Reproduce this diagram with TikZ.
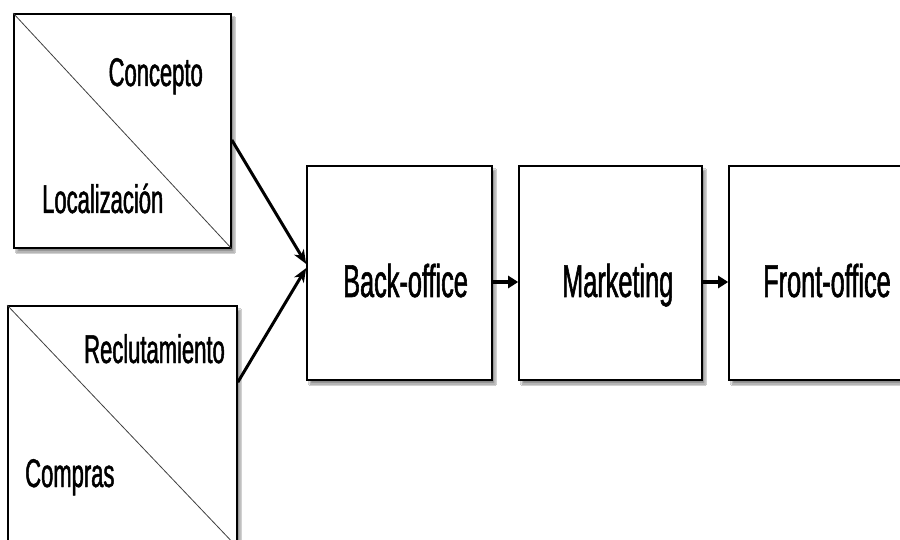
\documentclass[tikz,border=0pt]{standalone}
\usepackage{fontspec}
\newfontfamily\narrowfont[FakeStretch=0.55,FakeBold=1.2]{Liberation Sans}
\usetikzlibrary{arrows.meta,shadows.blur}
\begin{document}
\begin{tikzpicture}[x=1pt,y=-1pt,
  box/.style={draw=black, line width=1.6pt, fill=white, rectangle, inner sep=0pt,
    blur shadow={shadow xshift=3pt, shadow yshift=-4pt, shadow blur steps=6, shadow blur extra rounding=0pt, shadow opacity=45}},
  diag/.style={draw=black!75, line width=0.8pt},
  lab/.style={font=\narrowfont\fontsize{40}{44}\selectfont, inner sep=0pt},
  mainlab/.style={font=\narrowfont\fontsize{46}{50}\selectfont, inner sep=0pt},
  conn/.style={line width=3pt, -{Stealth[length=14pt,width=11pt,inset=4pt]}},
  flow/.style={line width=3.5pt, -{Triangle[length=10pt,width=12pt]}}
]
\clip (0,0) rectangle (900,540);
\fill[white] (0,0) rectangle (900,540);

\node[box, minimum width=217pt, minimum height=234pt] (c1) at (122.5,131) {};
\node[box, minimum width=229pt, minimum height=241pt] (c2) at (122.5,426.5) {};
\node[box, minimum width=185pt, minimum height=214pt] (back) at (399.5,273) {};
\node[box, minimum width=183pt, minimum height=214pt] (mkt) at (610.5,273) {};
\node[box, minimum width=185pt, minimum height=214pt] (front) at (821.5,273) {};

\draw[diag] (c1.north west) -- (c1.south east);
\draw[diag] (c2.north west) -- (c2.south east);

\node[lab, anchor=base east] (concepto) at (203,86) {Concepto};
\node[lab, anchor=base west] (localiz) at (42,213) {Localización};
\node[lab, anchor=base east] (reclut) at (225,363) {Reclutamiento};
\node[lab, anchor=base west] (compras) at (25,487) {Compras};

\node[mainlab, anchor=base west] (tback) at (343,297) {Back-office};
\node[mainlab, anchor=base west] (tmkt) at (562,297) {Marketing};
\node[mainlab, anchor=base west] (tfront) at (763,297) {Front-office};

\draw[conn] ([yshift=-9pt]c1.east) -- ([yshift=9pt]back.west);
\draw[conn] ([yshift=-77pt]c2.north east) -- ([yshift=5pt]back.west);
\draw[flow] ([yshift=-9pt]back.east) -- ([yshift=-9pt]mkt.west);
\draw[flow] ([yshift=-9pt]mkt.east) -- ([yshift=-9pt]front.west);
\end{tikzpicture}
\end{document}
